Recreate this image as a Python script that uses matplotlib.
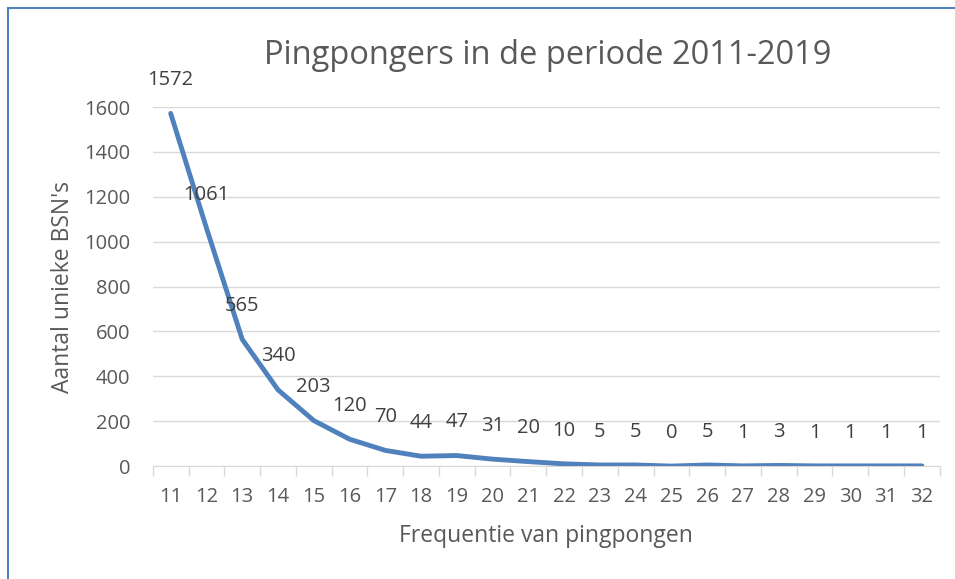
import matplotlib.pyplot as plt
from matplotlib.lines import Line2D

plt.rcParams['font.family'] = ['Open Sans', 'DejaVu Sans']

frequentie = [str(f) for f in range(11, 33)]
aantal = [1572, 1061, 565, 340, 203, 120, 70, 44, 47, 31, 20, 10,
          5, 5, 0, 5, 1, 3, 1, 1, 1, 1]

tekst = '#595959'
lijn = '#4F81BD'

fig = plt.figure(figsize=(9.55, 5.79), dpi=100)
ax = fig.add_axes([0.160, 0.195, 0.824, 0.620])

x = range(len(aantal))
ax.plot(x, aantal, color=lijn, lw=3.5, solid_capstyle='round', solid_joinstyle='round', zorder=3)
for i, v in zip(x, aantal):
    ax.annotate(str(v), (i, v), xytext=(0, 24), textcoords='offset points',
                ha='center', va='center', fontsize=14.5, color='#404040', zorder=4)

ax.set_xlim(-0.5, len(aantal) - 0.5)
ax.set_ylim(0, 1600)
ax.set_yticks(range(0, 1601, 200))
ax.set_xticks(x)
ax.set_xticklabels(frequentie)
ax.set_xticks([i - 0.5 for i in range(len(aantal) + 1)], minor=True)
ax.grid(axis='y', color='#D9D9D9', lw=1)
ax.set_axisbelow(True)
for s in ['top', 'right', 'left']:
    ax.spines[s].set_visible(False)
ax.spines['bottom'].set_color('#D9D9D9')
ax.tick_params(axis='y', length=0, labelsize=14.5, labelcolor=tekst, pad=16)
ax.tick_params(axis='x', which='major', length=0, labelsize=14.5, labelcolor=tekst, pad=15)
ax.tick_params(axis='x', which='minor', length=7, color='#D9D9D9', width=1)

ax.set_xlabel('Frequentie van pingpongen', fontsize=16.5, color=tekst, labelpad=12)
ax.set_ylabel("Aantal unieke BSN's", fontsize=16.5, color=tekst, labelpad=7)
fig.text(0.573, 0.905, 'Pingpongers in de periode 2011-2019', fontsize=23.5, color=tekst,
         ha='center', va='center')

# rand van de grafiek (alleen boven en links zichtbaar)
fig.add_artist(Line2D([0.0084, 1], [0.987, 0.987], color='#4F81BD', lw=1.5, transform=fig.transFigure))
fig.add_artist(Line2D([0.0084, 0.0084], [0, 0.987], color='#4F81BD', lw=1.5, transform=fig.transFigure))

fig.savefig('out.png', dpi=100)
